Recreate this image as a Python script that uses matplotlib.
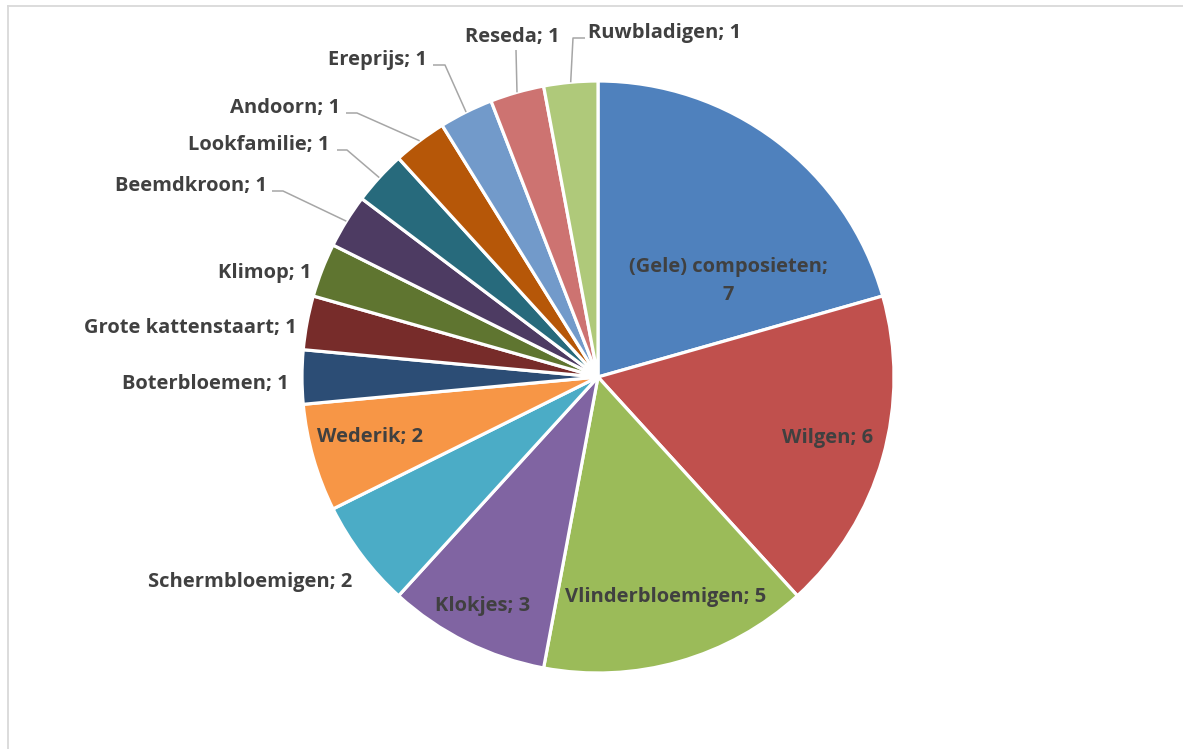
import numpy as np
import matplotlib
matplotlib.use('Agg')
import matplotlib.pyplot as plt
from matplotlib.lines import Line2D

# data
categories = ['(Gele) composieten', 'Wilgen', 'Vlinderbloemigen', 'Klokjes',
              'Schermbloemigen', 'Wederik', 'Boterbloemen', 'Grote kattenstaart',
              'Klimop', 'Beemdkroon', 'Lookfamilie', 'Andoorn', 'Ereprijs',
              'Reseda', 'Ruwbladigen']
counts = [7, 6, 5, 3, 2, 2, 1, 1, 1, 1, 1, 1, 1, 1, 1]
colors = ['#4F81BD', '#C0504D', '#9BBB59', '#8064A2', '#4BACC6', '#F79646',
          '#2C4D75', '#772C2A', '#5F7530', '#4D3B62', '#276A7C', '#B65708',
          '#729ACA', '#CD7371', '#AFC97A']

# layout (pixels): label anchor x, y, ha, va, leader points
W, H = 1183, 749
cx, cy, R = 598, 377, 296
layout = {
    '(Gele) composieten': (728, 281, 'center', 'center', None),
    'Wilgen': (828, 438, 'center', 'center', None),
    'Vlinderbloemigen': (666, 597, 'center', 'center', None),
    'Klokjes': (483, 606, 'center', 'center', None),
    'Schermbloemigen': (352, 587, 'right', 'baseline', None),
    'Wederik': (370, 437, 'center', 'center', None),
    'Boterbloemen': (289, 389, 'right', 'baseline', None),
    'Grote kattenstaart': (297, 333, 'right', 'baseline', None),
    'Klimop': (312, 278, 'right', 'baseline', None),
    'Beemdkroon': (267, 191, 'right', 'baseline', [(272, 191), (283, 191)]),
    'Lookfamilie': (330, 150, 'right', 'baseline', [(337, 150), (347, 150)]),
    'Andoorn': (340, 113, 'right', 'baseline', [(346, 113), (357, 113)]),
    'Ereprijs': (427, 65, 'right', 'baseline', [(433, 65), (445, 65)]),
    'Reseda': (560, 42, 'right', 'baseline', [(516, 50)]),
    'Ruwbladigen': (588, 38, 'left', 'baseline', [(585, 38), (573, 38)]),
}


def px(x, y):
    return (x - cx) / R, (cy - y) / R


plt.rcParams['font.family'] = ['Open Sans', 'DejaVu Sans']
fig = plt.figure(figsize=(W / 100, H / 100), dpi=100)
ax = fig.add_axes([0, 0, 1, 1])

wedges, _ = ax.pie(counts, colors=colors, startangle=90, counterclock=False,
                   radius=1, center=(0, 0),
                   wedgeprops=dict(edgecolor='white', linewidth=2.3))
ax.set_xlim(-cx / R, (W - cx) / R)
ax.set_ylim(-(H - cy) / R, cy / R)
ax.set_aspect('equal')
ax.axis('off')

for w, name, n in zip(wedges, categories, counts):
    x, y, ha, va, leader = layout[name]
    label = f'{name};\n{n}' if name.startswith('(Gele)') else f'{name}; {n}'
    tx, ty = px(x, y)
    ax.text(tx, ty, label, ha=ha, va=va, fontsize=14.5, fontweight='bold',
            color='#404040', linespacing=1.55)
    if leader:
        mid = np.deg2rad((w.theta1 + w.theta2) / 2)
        pts = [px(a, b) for a, b in leader] + [(np.cos(mid), np.sin(mid))]
        xs, ys = zip(*pts)
        ax.plot(xs, ys, color='#A6A6A6', lw=1.1, solid_capstyle='butt')

# chart frame (left and top edges visible)
fig.add_artist(Line2D([7.5 / W, 7.5 / W], [0, 1 - 5.5 / H],
                      transform=fig.transFigure, color='#D9D9D9', lw=1.3))
fig.add_artist(Line2D([7.5 / W, 1], [1 - 5.5 / H, 1 - 5.5 / H],
                      transform=fig.transFigure, color='#D9D9D9', lw=1.3))

fig.savefig('out.png', dpi=100, facecolor='white')
